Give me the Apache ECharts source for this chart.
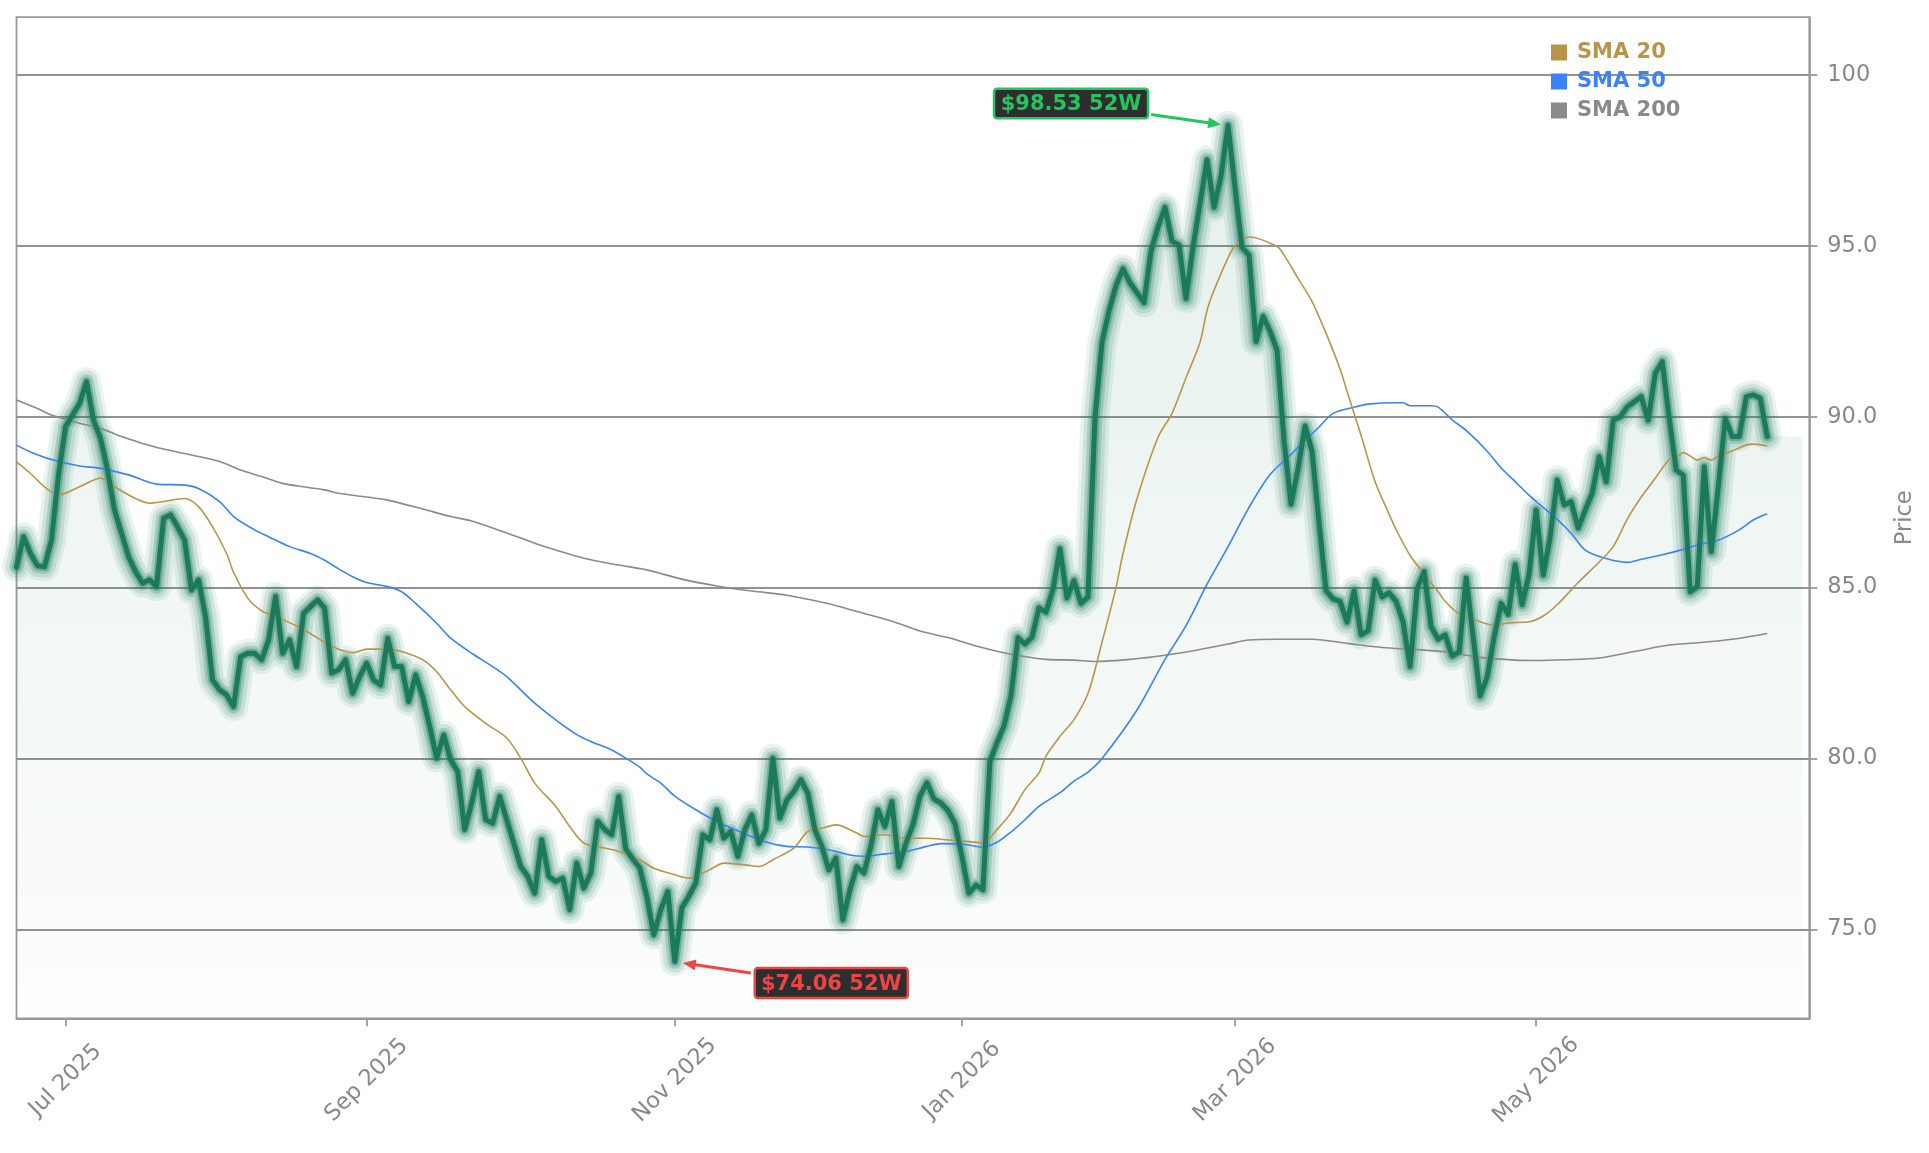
<!DOCTYPE html>
<html>
<head>
<meta charset="utf-8">
<script src="https://cdn.jsdelivr.net/npm/echarts@6/dist/echarts.min.js"></script>
<style>
  html, body { margin: 0; padding: 0; background: #ffffff; }
  #chart { width: 1929px; height: 1153px; }
</style>
</head>
<body>
<div id="chart"></div>
<script>
// ---------- DATA ----------
const startDate = '2025-06-20';
const totalSlots = 257; // trading-day slots on the x axis (data + right padding)
const holidays = ['2025-07-04','2025-09-01','2025-11-27','2025-12-25','2026-01-01',
  '2026-01-19','2026-02-16','2026-04-03','2026-05-25','2026-06-19'];
const labelMonths = [0, 2, 4, 6, 8, 10]; // Jan, Mar, May, Jul, Sep, Nov
const monthNames = ['Jan','Feb','Mar','Apr','May','Jun','Jul','Aug','Sep','Oct','Nov','Dec'];

const price = [
  85.60, 86.49, 86.00, 85.64, 85.61, 86.40, 88.30, 89.71, 90.05, 90.39,
  91.03, 89.90, 89.37, 88.44, 87.27, 86.59, 85.91, 85.47, 85.13, 85.23,
  85.03, 87.03, 87.13, 86.78, 86.39, 84.93, 85.23, 84.15, 82.30, 82.01,
  81.86, 81.52, 82.98, 83.08, 83.08, 82.89, 83.47, 84.74, 83.08, 83.47,
  82.69, 84.25, 84.45, 84.64, 84.40, 82.50, 82.60, 82.89, 81.91, 82.40,
  82.79, 82.30, 82.15, 83.52, 82.69, 82.69, 81.67, 82.45, 81.81, 80.94,
  80.01, 80.69, 79.96, 79.62, 77.92, 78.70, 79.62, 78.21, 78.11, 78.89,
  78.21, 77.53, 76.84, 76.55, 76.06, 77.62, 76.55, 76.40, 76.50, 75.58,
  76.94, 76.21, 76.65, 78.16, 77.92, 77.77, 78.89, 77.35, 77.06, 76.80,
  75.97, 74.84, 75.58, 76.11, 74.06, 75.63, 75.97, 76.36, 77.77, 77.62,
  78.50, 77.67, 77.87, 77.14, 77.92, 78.35, 77.52, 77.92, 80.01, 78.26,
  78.79, 79.04, 79.38, 78.99, 77.92, 77.43, 76.74, 77.09, 75.28, 76.16,
  76.84, 76.65, 77.43, 78.50, 78.01, 78.74, 76.84, 77.52, 78.06, 78.90,
  79.29, 78.82, 78.70, 78.48, 78.10, 77.14, 76.06, 76.30, 76.16, 79.92,
  80.46, 80.95, 81.83, 83.54, 83.35, 83.55, 84.41, 84.28, 84.95, 86.14,
  84.70, 85.21, 84.54, 84.73, 89.98, 92.18, 93.10, 93.84, 94.33, 93.92,
  93.63, 93.34, 94.85, 95.55, 96.13, 95.14, 95.02, 93.46, 94.97, 96.25,
  97.52, 96.13, 97.05, 98.53, 96.70, 94.95, 94.73, 92.20, 92.94, 92.50,
  91.95, 89.30, 87.44, 88.49, 89.73, 88.99, 86.90, 84.91, 84.67, 84.60,
  83.99, 84.91, 83.62, 83.74, 85.22, 84.73, 84.85, 84.60, 83.99, 82.69,
  84.97, 85.47, 83.86, 83.49, 83.62, 83.00, 83.12, 85.28, 83.56, 81.83,
  82.38, 83.56, 84.54, 84.22, 85.68, 84.50, 85.42, 87.27, 85.37, 86.49,
  88.15, 87.42, 87.52, 86.74, 87.27, 87.76, 88.83, 88.10, 89.90, 90.00,
  90.29, 90.44, 90.59, 89.90, 91.27, 91.61, 89.95, 88.44, 88.29, 84.88,
  85.03, 88.54, 86.05, 87.95, 89.95, 89.42, 89.42, 90.59, 90.64, 90.54,
  89.42
];

// moving averages: [trading-day index, value]
const sma20 = [
  [0,88.68],[2,88.34],[4,87.95],[6,87.71],[9,87.95],[12,88.20],[14,87.95],[17,87.61],
  [19,87.47],[21,87.52],[24,87.61],[26,87.37],[28,86.78],[30,86.00],[31,85.45],[33,84.70],
  [35,84.32],[37,84.15],[40,83.88],[42,83.65],[44,83.40],[46,83.20],[48,83.10],[50,83.20],
  [53,83.20],[55,83.13],[58,82.89],[60,82.54],[62,82.01],[64,81.52],[67,81.03],[70,80.60],
  [72,80.01],[74,79.28],[77,78.60],[79,78.01],[81,77.53],[84,77.38],[86,77.28],[89,77.04],
  [91,76.79],[94,76.60],[96,76.50],[99,76.75],[101,76.94],[104,76.89],[106,76.84],[108,77.04],
  [111,77.38],[113,77.87],[115,77.96],[117,78.06],[120,77.82],[121,77.72],[124,77.77],[127,77.67],
  [130,77.67],[133,77.62],[136,77.57],[138,77.53],[140,77.92],[142,78.41],[144,79.09],[146,79.58],
  [147,80.07],[149,80.65],[151,81.14],[153,81.90],[155,83.40],[157,85.00],[158,86.00],[160,87.60],
  [163,89.40],[165,90.10],[167,91.14],[169,92.18],[170,93.11],[171,93.70],[173,94.65],[174,95.00],
  [176,95.26],[180,94.98],[181,94.73],[183,94.05],[185,93.37],[187,92.44],[189,91.40],[190,90.74],
  [192,89.45],[194,88.10],[196,87.15],[197,86.70],[199,85.94],[201,85.40],[203,84.88],[204,84.60],
  [206,84.23],[207,84.20],[209,84.00],[211,83.90],[213,83.97],[216,84.00],[218,84.17],[220,84.50],
  [223,85.15],[226,85.75],[228,86.20],[230,87.00],[232,87.65],[234,88.20],[236,88.75],[237,88.80],
  [238,88.95],[239,88.85],[240,88.73],[241,88.80],[242,88.73],[243,88.85],[245,89.00],[247,89.17],
  [248,89.20],[250,89.15]
];
const sma50 = [
  [0,89.17],[2,88.97],[5,88.75],[9,88.56],[12,88.49],[16,88.30],[20,88.03],[24,88.00],
  [26,87.90],[29,87.52],[31,87.08],[34,86.69],[36,86.49],[39,86.20],[42,86.00],[44,85.80],
  [46,85.55],[48,85.32],[50,85.15],[53,85.03],[55,84.88],[57,84.54],[60,83.96],[62,83.52],
  [65,83.08],[68,82.69],[70,82.40],[72,82.01],[74,81.62],[77,81.13],[80,80.70],[82,80.50],
  [85,80.25],[87,80.01],[89,79.75],[90,79.55],[92,79.28],[94,78.90],[97,78.50],[100,78.16],
  [104,77.80],[107,77.56],[110,77.43],[113,77.41],[116,77.33],[119,77.18],[121,77.14],[124,77.21],
  [127,77.28],[130,77.43],[132,77.51],[135,77.50],[138,77.41],[140,77.55],[142,77.85],[144,78.21],
  [146,78.60],[149,79.00],[151,79.34],[153,79.60],[155,80.00],[160,81.42],[164,82.90],[167,83.89],
  [170,85.10],[173,86.20],[176,87.35],[179,88.31],[182,88.90],[183,89.11],[186,89.70],[188,90.10],
  [191,90.28],[193,90.37],[197,90.41],[198,90.41],[199,90.32],[202,90.32],[203,90.28],[205,89.91],
  [207,89.60],[210,88.99],[212,88.50],[214,88.10],[216,87.70],[217,87.52],[220,87.00],[222,86.59],
  [224,86.10],[227,85.85],[230,85.74],[232,85.83],[235,85.96],[238,86.12],[240,86.25],[243,86.39],
  [246,86.69],[248,86.98],[250,87.16]
];
const sma200 = [
  [0,90.49],[3,90.24],[5,90.05],[9,89.81],[12,89.66],[15,89.42],[18,89.22],[20,89.10],
  [25,88.88],[29,88.69],[32,88.44],[35,88.25],[38,88.05],[41,87.95],[44,87.86],[46,87.76],
  [50,87.65],[53,87.56],[58,87.30],[62,87.08],[65,86.95],[70,86.60],[74,86.30],[77,86.10],
  [81,85.86],[86,85.66],[90,85.52],[95,85.25],[100,85.05],[105,84.90],[110,84.78],[116,84.53],
  [120,84.30],[125,84.02],[129,83.73],[133,83.54],[138,83.24],[142,83.05],[147,82.90],[151,82.88],
  [154,82.84],[159,82.90],[164,83.02],[169,83.19],[173,83.35],[176,83.47],[180,83.49],[185,83.49],
  [190,83.37],[195,83.25],[200,83.19],[204,83.12],[209,82.96],[214,82.88],[217,82.87],[221,82.89],
  [226,82.94],[231,83.13],[236,83.32],[240,83.39],[245,83.49],[250,83.66]
];

const yTicks = [75, 80, 85, 90, 95, 100];
const yMin = 72.4, yMax = 101.69;
const fillTailDays = 5;

// ---------- categories (trading days) ----------
function pad(n) { return (n < 10 ? '0' : '') + n; }
const dates = [];
(function () {
  const p = startDate.split('-').map(Number);
  let d = new Date(Date.UTC(p[0], p[1] - 1, p[2]));
  while (dates.length < totalSlots) {
    const dow = d.getUTCDay();
    const iso = d.getUTCFullYear() + '-' + pad(d.getUTCMonth() + 1) + '-' + pad(d.getUTCDate());
    if (dow !== 0 && dow !== 6 && holidays.indexOf(iso) < 0) dates.push(iso);
    d = new Date(d.getTime() + 86400000);
  }
})();
function isLabelDay(i) {
  if (i <= 0 || i >= dates.length) return false;
  const m = +dates[i].slice(5, 7) - 1;
  const pm = +dates[i - 1].slice(5, 7) - 1;
  return m !== pm && labelMonths.indexOf(m) >= 0;
}

const C_LINE = '#1a7a5a';
const C20 = '#b8954a', C50 = '#3b82f6', C200 = '#8a8a8a';
const FONT = 'DejaVu Sans';

const priceData = price.map((v, i) => [dates[i], v]);
const last = price[price.length - 1];
const fillData = priceData.concat(
  Array.from({ length: fillTailDays }, (_, k) => [dates[price.length + k], last]));
const toPairs = arr => arr.map(p => [dates[p[0]], p[1]]);

function glow(width, alpha) {
  return {
    type: 'line', data: priceData, symbol: 'none', silent: true, z: 2,
    lineStyle: { color: C_LINE, width: width, opacity: alpha, join: 'round', cap: 'round' }
  };
}

const chart = echarts.init(document.getElementById('chart'), null, { renderer: 'canvas' });

const option = {
  animation: false,
  backgroundColor: '#ffffff',
  grid: {
    left: 16.5, right: 119.7, top: 17.2, bottom: 134.7,
    show: true, borderColor: '#999999', borderWidth: 1.8, backgroundColor: 'transparent'
  },
  legend: {
    orient: 'vertical', left: 1551, top: 42, padding: 0,
    icon: 'rect', itemWidth: 16, itemHeight: 16, itemGap: 8,
    textStyle: { fontFamily: FONT, fontWeight: 'bold', fontSize: 21, lineHeight: 21,
      padding: [0, 0, 0, 5] },
    data: [
      { name: 'SMA 20', textStyle: { color: C20 } },
      { name: 'SMA 50', textStyle: { color: C50 } },
      { name: 'SMA 200', textStyle: { color: C200 } }
    ]
  },
  xAxis: {
    type: 'category', data: dates, boundaryGap: false,
    axisLine: { show: true, lineStyle: { color: '#999999', width: 1.8 } },
    axisTick: { show: true, interval: (i) => isLabelDay(i), length: 8,
      lineStyle: { color: '#999999', width: 1.8 } },
    axisLabel: {
      interval: (i) => isLabelDay(i),
      rotate: 45, align: 'center', verticalAlign: 'middle', margin: 62,
      color: '#888888', fontFamily: FONT, fontSize: 22.5,
      formatter: (v) => monthNames[+v.slice(5, 7) - 1] + ' ' + v.slice(0, 4)
    },
    splitLine: { show: false }
  },
  yAxis: {
    type: 'value', position: 'right', min: yMin, max: yMax, splitNumber: 6,
    name: 'Price', nameLocation: 'middle', nameRotate: 90, nameGap: 84,
    nameTextStyle: { color: '#888888', fontFamily: FONT, fontSize: 22.5 },
    axisLine: { show: true, lineStyle: { color: '#999999', width: 1.8 } },
    axisTick: { show: true, customValues: yTicks, length: 8,
      lineStyle: { color: '#999999', width: 1.8 } },
    axisLabel: {
      customValues: yTicks, margin: 18, color: '#888888', fontFamily: FONT, fontSize: 22.5,
      formatter: (v) => (v >= 100 ? String(Math.round(v)) : v.toFixed(1))
    },
    splitLine: { show: true, lineStyle: { color: '#929292', width: 1.8 } }
  },
  series: [
    {
      name: 'fill', type: 'line', data: fillData, symbol: 'none', silent: true, z: 1,
      lineStyle: { width: 0, opacity: 0 },
      areaStyle: {
        origin: 'start',
        color: new echarts.graphic.LinearGradient(0, 0, 0, 1, [
          { offset: 0, color: 'rgba(26,122,90,0.17)' },
          { offset: 1, color: 'rgba(26,122,90,0.015)' }
        ])
      }
    },
    glow(29, 0.09),
    glow(22, 0.13),
    glow(14.5, 0.22),
    glow(9, 0.37),
    { name: 'SMA 200', type: 'line', data: toPairs(sma200), symbol: 'none', z: 3, smooth: 0.3,
      color: C200, lineStyle: { color: C200, width: 1.6 } },
    { name: 'SMA 50', type: 'line', data: toPairs(sma50), symbol: 'none', z: 3, smooth: 0.3,
      color: C50, lineStyle: { color: C50, width: 1.6 } },
    { name: 'SMA 20', type: 'line', data: toPairs(sma20), symbol: 'none', z: 3, smooth: 0.3,
      color: C20, lineStyle: { color: C20, width: 1.6 } },
    { name: 'Price', type: 'line', data: priceData, symbol: 'none', z: 4,
      lineStyle: { color: C_LINE, width: 5, join: 'round', cap: 'round' } }
  ]
};
chart.setOption(option);

// ---------- 52-week high / low annotations ----------
const hiVal = Math.max.apply(null, price), loVal = Math.min.apply(null, price);
const hiIdx = price.indexOf(hiVal), loIdx = price.indexOf(loVal);
const hi = chart.convertToPixel({ xAxisIndex: 0, yAxisIndex: 0 }, [dates[hiIdx], hiVal]);
const lo = chart.convertToPixel({ xAxisIndex: 0, yAxisIndex: 0 }, [dates[loIdx], loVal]);

function arrow(x1, y1, x2, y2, color) {
  const dx = x2 - x1, dy = y2 - y1, len = Math.sqrt(dx * dx + dy * dy);
  const ux = dx / len, uy = dy / len, nx = -uy, ny = ux;
  const L = 13, W = 11;
  const bx = x2 - ux * L, by = y2 - uy * L;
  return [
    { type: 'line', z: 100, shape: { x1: x1, y1: y1, x2: bx + ux * 2, y2: by + uy * 2 },
      style: { stroke: color, lineWidth: 3 } },
    { type: 'polygon', z: 100,
      shape: { points: [[x2, y2], [bx + nx * W / 2, by + ny * W / 2], [bx - nx * W / 2, by - ny * W / 2]] },
      style: { fill: color } }
  ];
}
function box(x, y, w, h, color, text) {
  return [
    { type: 'rect', z: 100, shape: { x: x, y: y, width: w, height: h, r: 3 },
      style: { fill: '#2e2e2e', stroke: color, lineWidth: 2.5 } },
    { type: 'text', z: 101, x: x + w / 2, y: y + h / 2 + 1,
      style: { text: text, fill: color, fontFamily: FONT, fontWeight: 'bold', fontSize: 21,
        align: 'center', verticalAlign: 'middle' } }
  ];
}
const GREEN = '#22c55e', RED = '#ef4444';
const graphics = []
  .concat(arrow(hi[0] - 77, hi[1] - 10.6, hi[0] - 7, hi[1] - 0.6, GREEN))
  .concat(box(hi[0] - 234, hi[1] - 36.5, 154, 29.5, GREEN, '$' + hiVal.toFixed(2) + ' 52W'))
  .concat(arrow(lo[0] + 76, lo[1] + 11.4, lo[0] + 8, lo[1] + 1.4, RED))
  .concat(box(lo[0] + 80, lo[1] + 6.5, 153, 30, RED, '$' + loVal.toFixed(2) + ' 52W'));
chart.setOption({ graphic: graphics });
</script>
</body>
</html>
